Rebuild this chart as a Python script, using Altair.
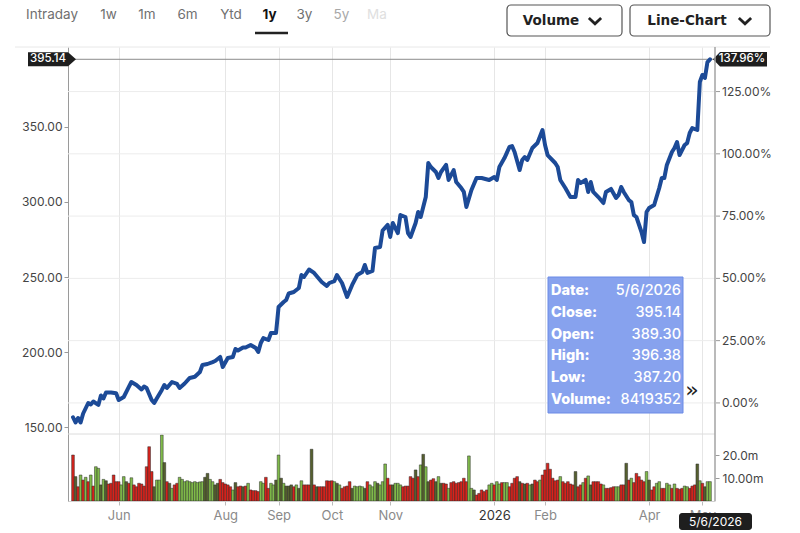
import altair as alt
import numpy as np
import pandas as pd

# ------------------------------------------------------------------ data
first_day, last_day = "2025-05-06", "2026-05-06"
market_holidays = ["2025-05-26", "2025-06-19", "2025-07-04", "2025-09-01",
                   "2025-11-27", "2025-12-25", "2026-01-01", "2026-01-19",
                   "2026-02-16", "2026-04-03"]

# closing price at trading-session number (0 = first session of the year shown)
close_session = [
    0, 1, 2, 3, 4, 6, 7, 8, 10, 11, 12, 13, 15, 17, 18, 20, 22, 23, 25, 27,
    28, 29, 31, 32, 33, 35, 36, 37, 39, 41, 42, 44, 46, 48, 50, 51, 53, 55, 56, 58,
    59, 61, 63, 64, 65, 67, 68, 70, 72, 73, 74, 75, 77, 78, 80, 81, 83, 84, 85, 87,
    89, 90, 91, 93, 95, 97, 98, 100, 101, 103, 104, 106, 108, 110, 112, 114, 115, 116, 118, 119,
    121, 122, 124, 125, 126, 128, 129, 131, 132, 133, 135, 136, 137, 139, 140, 141, 143, 144, 145, 147,
    148, 150, 151, 153, 154, 155, 157, 159, 161, 164, 166, 167, 168, 170, 172, 173, 174, 176, 177, 178,
    179, 181, 183, 185, 186, 187, 190, 191, 192, 194, 196, 198, 199, 200, 202, 203, 204, 205, 207, 209,
    210, 212, 214, 215, 216, 217, 219, 220, 221, 222, 224, 225, 226, 227, 229, 231, 232, 233, 234, 236,
    237, 238, 239, 241, 242, 243, 244, 246, 247, 248, 249, 250, 251,
]
close_price = [
    156.5, 153.0, 156.0, 153.0, 159.0, 166.0, 165.0, 167.0, 164.7, 171.0,
    169.0, 173.0, 173.0, 172.5, 168.0, 170.0, 176.7, 180.0, 178.0, 175.0,
    177.0, 176.0, 168.0, 166.0, 169.0, 174.7, 178.0, 176.0, 180.0, 178.7,
    176.0, 179.0, 182.7, 183.5, 186.7, 191.3, 192.0, 193.3, 194.0, 196.7,
    190.0, 196.0, 196.7, 202.0, 201.0, 203.0, 203.0, 204.7, 202.7, 200.0,
    206.0, 209.3, 208.0, 212.7, 212.7, 230.0, 233.3, 234.7, 239.0, 240.0,
    242.7, 251.3, 250.0, 255.0, 252.7, 248.7, 246.7, 244.0, 246.0, 247.3,
    251.3, 246.0, 236.7, 244.7, 251.3, 253.3, 258.0, 252.7, 254.0, 269.3,
    270.0, 281.0, 284.7, 276.7, 286.0, 279.3, 291.3, 290.0, 279.3, 276.7,
    286.0, 293.3, 290.0, 303.3, 326.0, 323.3, 320.0, 316.0, 320.0, 324.7,
    314.7, 321.3, 313.3, 309.3, 306.7, 296.7, 308.0, 316.0, 316.0, 314.7,
    316.7, 314.7, 323.3, 329.3, 336.7, 337.3, 333.3, 321.3, 328.0, 330.0,
    328.0, 336.0, 339.3, 348.0, 338.0, 331.3, 326.0, 323.3, 314.7, 309.3,
    303.3, 303.3, 314.7, 312.7, 314.7, 306.7, 313.3, 306.7, 303.3, 299.3,
    306.7, 308.7, 302.7, 304.7, 310.0, 306.7, 301.3, 300.0, 291.3, 290.0,
    280.0, 273.3, 293.3, 296.0, 298.0, 309.3, 316.0, 316.0, 324.7, 333.3,
    336.0, 340.0, 331.3, 338.0, 339.3, 346.0, 349.3, 348.0, 380.0, 384.7,
    382.7, 393.3, 395.14,
]

# daily volume in millions, one per session
volume_m = [
    20.0, 10.6, 6.2, 11.3, 9.1, 10.3, 8.4, 11.3, 6.5, 14.9,
    14.2, 7.0, 9.4, 8.8, 7.4, 7.7, 11.3, 8.4, 8.4, 7.0,
    10.6, 8.4, 7.7, 10.1, 7.0, 6.2, 7.7, 7.4, 6.5, 14.9,
    23.6, 12.8, 6.2, 9.1, 9.1, 28.7, 16.7, 8.4, 7.7, 5.5,
    7.0, 7.7, 10.3, 9.4, 8.4, 8.8, 8.4, 8.0, 8.4, 8.0,
    8.3, 8.4, 10.3, 12.0, 9.4, 8.4, 7.0, 7.7, 9.4, 8.0,
    7.4, 7.0, 6.2, 4.8, 8.0, 6.2, 6.5, 6.2, 6.5, 7.7,
    4.8, 4.5, 4.5, 4.1, 8.4, 7.7, 10.3, 5.5, 7.7, 7.0,
    9.1, 20.0, 9.9, 7.7, 6.5, 6.5, 7.0, 6.2, 7.0, 5.5,
    8.8, 7.0, 7.0, 7.0, 22.5, 7.0, 6.2, 6.2, 6.2, 6.2,
    8.8, 8.7, 8.8, 8.4, 7.7, 7.0, 5.5, 6.2, 6.5, 8.4,
    5.5, 6.5, 6.2, 6.5, 6.2, 5.5, 8.4, 7.0, 6.2, 8.4,
    7.7, 7.0, 8.4, 16.1, 9.9, 7.0, 7.0, 7.7, 7.7,
    7.0, 6.2, 6.5, 6.5, 10.6, 9.9, 13.5, 10.6, 15.7, 20.3,
    14.9, 8.4, 9.1, 9.7, 8.4, 10.6, 7.7, 7.7, 7.4, 5.5,
    8.0, 8.4, 7.7, 8.0, 8.4, 9.9, 8.4, 19.6, 5.5, 4.8,
    2.6, 3.3, 4.8, 4.1, 4.8, 7.0, 7.7, 7.0, 8.4, 7.4,
    8.0, 8.0, 8.0, 6.2, 7.7, 9.9, 10.6, 8.4, 7.7, 7.4,
    7.7, 7.0, 7.4, 9.1, 8.4, 9.1, 11.3, 13.5, 16.4, 13.8,
    9.9, 8.8, 9.1, 10.6, 8.4, 7.7, 8.4, 7.4, 7.0, 12.8,
    6.2, 7.0, 8.0, 9.9, 10.9, 7.0, 8.4, 8.4, 8.4, 7.4,
    7.0, 5.5, 5.5, 5.8, 6.2, 6.2, 6.2, 7.0, 7.0, 16.4,
    9.1, 9.9, 8.0, 12.0, 10.6, 9.1, 8.4, 12.8, 9.1, 4.8,
    6.2, 7.7, 8.4, 5.5, 5.5, 7.7, 7.0, 5.5, 7.4, 5.5,
    5.1, 5.5, 6.5, 6.2, 5.5, 6.5, 7.0, 16.1, 8.8, 7.7,
    6.2, 8.4, 8.419352,
]
# bar shade per session: g = up day, r = down day, k = dark
volume_side = list(
    "rkrgrgrgrg" "gkgkrrrrrg" "gkrgrrrrrr" "rrkgggkrkg" "rrgggggggg"
    "ggkkggkkrr" "rrrgkrrkrg" "rrrrggrrgg" "kgkgkkkrgk" "grrrkrkrrr"
    "rrrgkgrrrr" "kggggkrggg" "kgggrrkgg"
    "grrrrrkrgk" "gkrrkgkrrg" "rrrrrrrggk" "rrrrrggrgg" "rggrrrrkrk"
    "rgkrrgrrrr" "rrrgrrrrrk" "rrgrgkrrrr" "grrrrggrrk" "rgrrrrrgkr"
    "rggrrggrgr" "rrggrrrkgr" "kgg"
)

quote_open, quote_high, quote_low = 389.30, 396.38, 387.20
change_pct_last = 137.96

price_ticks = [150, 200, 250, 300, 350]
pct_ticks = [0, 25, 50, 75, 100, 125]
volume_ticks = [10, 20]
volume_tick_text = ["10.00m", "20.0m"]
month_ticks = ["2025-06", "2025-08", "2025-09", "2025-10", "2025-11",
               "2026-01", "2026-02", "2026-04", "2026-05"]
range_tabs = ["Intraday", "1w", "1m", "6m", "Ytd", "1y", "3y", "5y", "Ma"]

# ------------------------------------------------------------ derived tables
days = pd.bdate_range(first_day, last_day)
days = days[~days.isin(pd.to_datetime(market_holidays))]
assert len(days) == len(volume_m) == len(volume_side)
assert len(close_session) == len(close_price)

price_df = pd.DataFrame({"s": close_session, "price": close_price})
vol_df = pd.DataFrame({"s": np.arange(len(days)), "vol": volume_m, "side": volume_side})

last_close = close_price[-1]
base_price = last_close / (1 + change_pct_last / 100)
pct_df = pd.DataFrame({
    "price": [base_price * (1 + p / 100) for p in pct_ticks],
    "label": [f"{p:.2f}%" for p in pct_ticks],
})
last_df = pd.DataFrame({"price": [last_close]})

periods = days.to_period("M")
tick_idx, tick_text = [], []
for m in month_ticks:
    p = pd.Period(m, "M")
    tick_idx.append(int(np.flatnonzero(periods == p)[0]))
    tick_text.append(str(p.year) if p.month == 1 else p.strftime("%b"))
year_idx = tick_idx[tick_text.index("2026")]
x_label_expr = " : ".join(
    f"datum.value == {i} ? '{t}'" for i, t in zip(tick_idx, tick_text)
) + " : ''"
vol_label_expr = " : ".join(
    f"datum.value == {v} ? '{t}'" for v, t in zip(volume_ticks, volume_tick_text)
) + " : ''"

last_day_ts = days[-1]
date_text = f"{last_day_ts.month}/{last_day_ts.day}/{last_day_ts.year}"
quote_rows = [
    ("Date:", date_text),
    ("Close:", f"{last_close:.2f}"),
    ("Open:", f"{quote_open:.2f}"),
    ("High:", f"{quote_high:.2f}"),
    ("Low:", f"{quote_low:.2f}"),
    ("Volume:", f"{round(volume_m[-1] * 1e6)}"),
]

# ------------------------------------------------------------------ layout
W, H = 647, 454
FONT = "Inter"
AXIS_GREY = "#9a9a9a"
LINE_BLUE = "#1c4a97"
ONE = alt.Data(values=[{}])

x_enc = alt.X(
    "s:Q",
    title=None,
    scale=alt.Scale(domain=[0, len(days) - 1], nice=False, zero=False),
    axis=alt.Axis(
        values=tick_idx, labelExpr=x_label_expr, grid=True, gridColor="#e6e6e6",
        domainColor="#d0d0d0", tickColor="#bbbbbb", tickSize=4, labelPadding=4,
        labelFont=FONT, labelFontSize=13, labelFlush=False, labelOverlap=False,
        labelColor={"condition": {"test": f"datum.value == {year_idx}", "value": "#333333"},
                    "value": "#8a8a8a"},
    ),
)
price_y = alt.Y(
    "price:Q",
    title=None,
    scale=alt.Scale(domain=[100.67, 403.33], nice=False, zero=False),
    axis=alt.Axis(
        orient="left", values=price_ticks, format=".2f", grid=False,
        domainColor=AXIS_GREY, tickColor=AXIS_GREY, tickSize=4, labelPadding=2,
        labelFont=FONT, labelFontSize=12, labelColor="#444444",
    ),
)
vol_y = alt.Y(
    "vol:Q",
    title=None,
    scale=alt.Scale(domain=[0, 197.4], nice=False, zero=True),
    axis=alt.Axis(
        orient="right", values=volume_ticks, labelExpr=vol_label_expr, grid=False,
        domain=False, tickColor=AXIS_GREY, tickSize=4, labelPadding=3,
        labelFont=FONT, labelFontSize=12, labelColor="#444444",
    ),
)


def text_at(text, x, y, **style):
    return alt.Chart(ONE).mark_text(text=text, **style).encode(
        x=alt.value(x), y=alt.value(y))


def box_at(x, x2, y, y2, **style):
    return alt.Chart(ONE).mark_rect(**style).encode(
        x=alt.value(x), x2=alt.value(x2), y=alt.value(y), y2=alt.value(y2))


def rule_at(x, x2, y, y2, **style):
    return alt.Chart(ONE).mark_rule(**style).encode(
        x=alt.value(x), x2=alt.value(x2), y=alt.value(y), y2=alt.value(y2))


# ------------------------------------------------------------ price panel
pct_grid = alt.Chart(pct_df).mark_rule(color="#ececec").encode(
    y=price_y, x=alt.value(0), x2=alt.value(W))
pct_tick = alt.Chart(pct_df).mark_rule(color=AXIS_GREY).encode(
    y=price_y, x=alt.value(W + 1), x2=alt.value(W + 5))
pct_text = alt.Chart(pct_df).mark_text(
    align="left", baseline="middle", font=FONT, fontSize=12, color="#444444"
).encode(y=price_y, x=alt.value(W + 7), text="label:N")
close_level = alt.Chart(last_df).mark_rule(color="#8c8c8c").encode(
    y=price_y, x=alt.value(0), x2=alt.value(W))
price_line = alt.Chart(price_df).mark_line(
    color=LINE_BLUE, strokeWidth=4, strokeJoin="round", strokeCap="round"
).encode(x=x_enc, y=price_y)

left_badge = alt.Chart(last_df).mark_point(
    shape="M-1,-0.29L0.67,-0.29L1,0L0.67,0.29L-1,0.29Z", size=2304,
    filled=True, color="#1e1e1e", opacity=1,
).encode(y=price_y, x=alt.value(-16))
left_badge_text = alt.Chart(last_df).mark_text(
    font=FONT, fontSize=11.5, fontWeight=500, color="white", baseline="middle"
).encode(y=price_y, x=alt.value(-20), text=alt.Text("price:Q", format=".2f"))
right_badge = alt.Chart(last_df).mark_point(
    shape="M-1,0L-0.74,-0.27L1,-0.27L1,0.27L-0.74,0.27Z", size=2916,
    filled=True, color="#1e1e1e", opacity=1,
).encode(y=price_y, x=alt.value(672))
right_badge_text = alt.Chart(last_df).mark_text(
    text=f"{change_pct_last:.2f}%", font=FONT, fontSize=11.5, fontWeight=500,
    color="white", baseline="middle",
).encode(y=price_y, x=alt.value(674))

price_panel = alt.layer(
    pct_grid, pct_tick, pct_text, close_level, price_line,
    left_badge, left_badge_text, right_badge, right_badge_text,
)

# ------------------------------------------------------------ volume panel
volume_bars = alt.Chart(vol_df).mark_bar(
    size=2.7, stroke="#2a2a2a", strokeWidth=0.5, clip=True
).encode(
    x=x_enc, y=vol_y,
    color=alt.Color("side:N", legend=None,
                    scale=alt.Scale(domain=["g", "r", "k"],
                                    range=["#80bb4a", "#d8231c", "#56602f"])),
)

# ------------------------------------------------------------ frame & widgets
frame = [
    rule_at(-53, 702, 0, 0, color="#e8e8e8"),
    rule_at(0, W, 387, 387, color="#dcdcdc"),
    rule_at(W, W, 0, H, color="#a3a3a3", strokeWidth=1.5),
]

tab_x = [-16, 40.5, 79, 119.5, 163, 201.5, 236.5, 273.5, 309]
tab_colour = ["#707070"] * 5 + ["#111111", "#707070", "#a8a8a8", "#e0e0e0"]
tabs = [
    text_at(t, x, -32, font=FONT, fontSize=13.5, color=c, baseline="middle",
            fontWeight=700 if t == "1y" else 400)
    for t, x, c in zip(range_tabs, tab_x, tab_colour)
]
tabs.append(rule_at(187, 220, -14, -14, color="#222222", strokeWidth=2.5))

CHEVRON = "M-1,-0.5L0,0.45L1,-0.5"
buttons = []
for (x0, x1, label, tx, cx) in [(439, 554, "Volume", 483, 527),
                                (562, 702, "Line-Chart", 619, 677)]:
    buttons += [
        box_at(x0, x1, -42, -11, fill="white", stroke="#555555", strokeWidth=1.2,
               cornerRadius=4),
        text_at(label, tx, -26, font="DejaVu Sans", fontSize=13.5, fontWeight="bold",
                color="#222222", baseline="middle"),
        alt.Chart(ONE).mark_point(shape=CHEVRON, size=150, filled=False,
                                  strokeWidth=2.8, color="#222222", opacity=1)
        .encode(x=alt.value(cx), y=alt.value(-26)),
    ]

# quote box for the latest session
quote = [box_at(480, 615, 230, 366, fill="#87a2ee", stroke="#6a8ae6", strokeWidth=1)]
for i, (k, v) in enumerate(quote_rows):
    ry = 244 + i * 21.8
    quote.append(text_at(k, 483, ry, font=FONT, fontSize=14.5, fontWeight=800,
                         color="white", align="left", baseline="middle"))
    quote.append(text_at(v, 613, ry, font=FONT, fontSize=14.5, fontWeight=500,
                         color="white", align="right", baseline="middle"))
quote.append(text_at("\u00bb", 624, 343, font="DejaVu Sans", fontSize=22,
                     color="#222222", baseline="middle"))

date_badge = [
    box_at(611, 684, 466, 483, fill="#1e1e1e", cornerRadius=3),
    text_at(date_text, 647.5, 475, font=FONT, fontSize=12, color="white",
            baseline="middle"),
]

chart = alt.layer(
    price_panel, volume_bars, *frame, *tabs, *buttons, *quote, *date_badge,
).resolve_scale(
    y="independent"
).properties(
    width=W, height=H, background="white",
    autosize=alt.AutoSizeParams(type="none"),
    padding={"left": 68, "top": 47, "right": 85, "bottom": 32},
).configure_view(stroke=None)

chart.save("out.html", embed_options={"renderer": "svg", "actions": False})
